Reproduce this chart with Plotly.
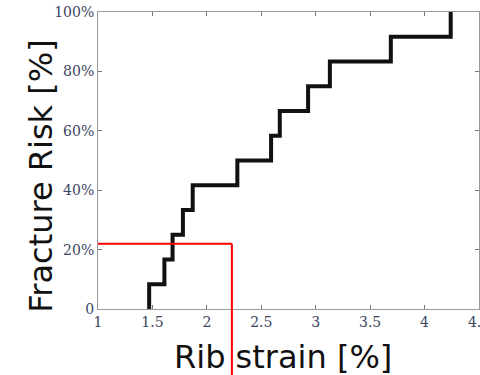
import plotly.graph_objects as go

# Empirical fracture-risk curve: strain at which each rib fractured (%)
strain = [1.47, 1.61, 1.685, 1.78, 1.87, 2.28, 2.59, 2.67, 2.93, 3.13, 3.69, 4.24]
risk = [8.3, 16.7, 25.0, 33.3, 41.7, 50.0, 58.3, 66.7, 75.0, 83.3, 91.7, 100.0]

# Reading marked on the curve
mark_strain = 2.23
mark_risk = 22.0

x_ticks = [1, 1.5, 2, 2.5, 3, 3.5, 4, 4.5]
x_ticktext = ["1", "1.5", "2", "2.5", "3", "3.5", "4", "4.5"]
y_ticks = [0, 20, 40, 60, 80, 100]
y_ticktext = ["0", "20%", "40%", "60%", "80%", "100%"]

x_title = "Rib strain [%]"
y_title = "Fracture Risk [%]"

fig = go.Figure()
fig.add_trace(go.Scatter(
    x=[strain[0]] + strain,
    y=[0] + risk,
    mode="lines",
    line=dict(color="#111111", width=4, shape="hv"),
    showlegend=False,
    hoverinfo="skip",
))

# Red guide lines: across from the y axis, then down past the x axis
fig.add_shape(type="line", xref="x", yref="y",
              x0=1, x1=mark_strain, y0=mark_risk, y1=mark_risk,
              line=dict(color="#ff0000", width=2), layer="above")
fig.add_shape(type="line", xref="x", yref="paper",
              x0=mark_strain, x1=mark_strain, y0=mark_risk / 100.0, y1=-0.3,
              line=dict(color="#ff0000", width=2), layer="above")

tick_font = dict(family="DejaVu Serif", size=14, color="#3a4560")
axis_common = dict(
    showline=True, linecolor="#999999", linewidth=1, mirror="ticks",
    ticks="inside", ticklen=4, tickcolor="#777777", showgrid=False,
    zeroline=False, tickfont=tick_font, ticklabeloverflow="allow",
    automargin=False,
)

fig.update_layout(
    width=480, height=375,
    margin=dict(l=98, r=1, t=12, b=66),
    paper_bgcolor="white", plot_bgcolor="white",
    xaxis=dict(range=[1, 4.5], tickvals=x_ticks, ticktext=x_ticktext, **axis_common),
    yaxis=dict(range=[0, 100], tickvals=y_ticks, ticktext=y_ticktext, **axis_common),
    annotations=[
        dict(text=x_title, xref="paper", yref="paper", x=0.486, y=-0.163,
             xanchor="center", yanchor="middle", showarrow=False,
             font=dict(family="DejaVu Sans", size=32, color="#111111")),
        dict(text=y_title, xref="paper", yref="paper", x=-0.15, y=0.448,
             xanchor="center", yanchor="middle", showarrow=False, textangle=-90,
             font=dict(family="DejaVu Sans", size=32, color="#111111")),
    ],
)

fig.write_html("out.html")
